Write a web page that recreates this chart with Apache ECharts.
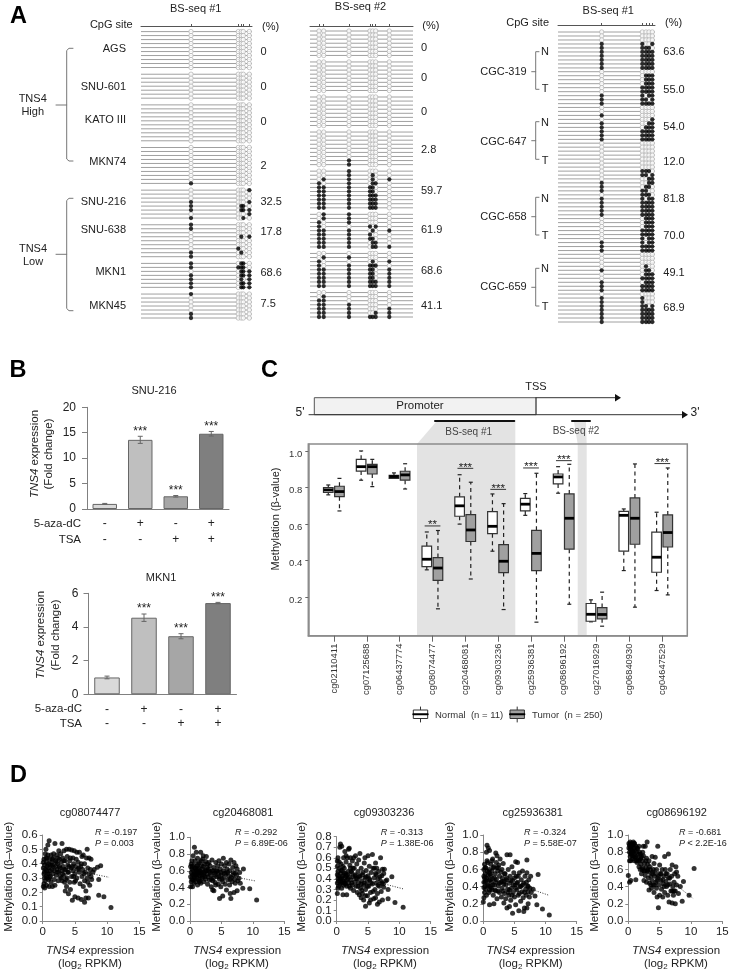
<!DOCTYPE html>
<html><head><meta charset="utf-8">
<style>html,body{margin:0;padding:0;background:#fff}#c{width:735px;height:972px}</style>
<script src="https://cdn.jsdelivr.net/npm/echarts@6/dist/echarts.min.js"></script>
</head><body><div id="c"></div>
<script>
// ---------- Panel A data: each string is one clone, one character per CpG site ----------
const a1Sites=[50,97.3,100.3,102.3,108.3];
const a1Labels=['AGS','SNU-601','KATO III','MKN74','SNU-216','SNU-638','MKN1','MKN45'];
const a1Pct=['0','0','0','2','32.5','17.8','68.6','7.5'];
const a1Rows=[
 Array(10).fill('00000'),Array(7).fill('00000'),Array(10).fill('00000'),
 ['00000','00000','00000','00000','00000','00000','00000','00000','00000','10000'],
 ['00001','00000','00000','10001','10110','10111','00001','10010'],
 ['10000','10000','00000','00101','00000','00000','01000','10100','10000'],
 ['10110','11110','00111','10111','10101','10111','10111'],
 ['10000','00000','00000','00000','00000','10000','10000']];
const a2Sites=[9,13.7,39,60,62.7,65.7,79.3];
const a2Pct=['0','0','0','2.8','59.7','61.9','68.6','41.1'];
const a2Rows=[
 Array(7).fill('0000000'),Array(8).fill('0000000'),Array(8).fill('0000000'),
 ['0000000','0000000','0000000','0000000','0000000','0000000','0000000','0010000','0010000'],
 ['0010000','0010100','0110101','1010110','1111100','1111100','1111110','1111110','1111110','1111110'],
 ['0110000','0110000','1010000','1001010','1110101','1111000','1111100','1110110','1110111'],
 ['0000000','0110000','1000101','1011110','1111101','1111101','1111101','1111111','1111111'],
 ['0000000','0100000','1100000','1110000','1110001','1110011','1111111']];
const a3Sites=[43.7,84.3,88,91,94.3];
const a3Labels=['CGC-319','CGC-647','CGC-658','CGC-659'];
const a3Pct=['63.6','55.0','54.0','12.0','81.8','70.0','49.1','68.9'];
const a3Rows=[
 ['00000','00000','00000','11001','11110','11111','11111','11111','11111','11111'],
 ['00000','00111','00111','00111','01111','01111','11011','11101','11111'],
 ['00000','00000','10000','00001','10011','10111','11111','11111','11111'],
 ['00000','00000','00000','00000','00000','00000','00000','01110','01101'],
 ['00011','10011','10110','11100','01110','11011','11111','11111','11111','11111'],
 ['00111','00111','00111','01111','01111','01011','11011','11111','11111'],
 ['00000','00000','00000','00100','10110','00111','01111','10111','11111','11111'],
 ['00000','11000','11000','11101','11111','11111','11111','11111']];

// ---------- Panel B data ----------
const bTreat5aza=['-','+','-','+'];
const bTreatTsa=['-','-','+','+'];
const bColors=['#d9d9d9','#bfbfbf','#a6a6a6','#7f7f7f'];
const snu216Values=[1,13.6,2.5,14.8];
const snu216Errors=[0.1,0.7,0.15,0.45];
const snu216Stars=['','***','***','***'];
const mkn1Values=[1,4.55,3.45,5.42];
const mkn1Errors=[0.08,0.22,0.15,0.04];
const mkn1Stars=['','***','***','***'];

// ---------- Panel C data: low, q1, median, q3, high ----------
const cgSites=['cg02110411','cg07125688','cg06437774','cg08074477','cg20468081','cg09303236','cg25936381','cg08696192','cg27016929','cg06840930','cg04647529'];
const normalBoxes=[[.76,.774,.787,.80,.814],[.84,.89,.914,.954,1.0],[.85,.85,.86,.867,.88],[.35,.368,.408,.48,.557],[.60,.643,.70,.749,.87],[.452,.548,.588,.668,.765],[.648,.672,.709,.741,.767],[.769,.82,.858,.874,.914],[.066,.069,.107,.166,.186],[.346,.452,.648,.67,.683],[.237,.337,.419,.556,.665]];
const tumorBoxes=[[.672,.75,.778,.807,.85],[.805,.874,.914,.927,.954],[.792,.84,.869,.889,.93],[.137,.293,.36,.417,.565],[.30,.505,.568,.652,.829],[.133,.335,.397,.488,.712],[.064,.346,.44,.566,.878],[.162,.463,.632,.765,.927],[.042,.082,.106,.144,.228],[.146,.49,.632,.743,.929],[.213,.475,.554,.65,.907]];
const sigSites=[4,5,6,7,8,11];
const sigLabels=['**','***','***','***','***','***'];
const sigHeights=[.59,.905,.79,.907,.947,.931];

// ---------- Panel D data ----------
const dTitles=['cg08074477','cg20468081','cg09303236','cg25936381','cg08696192'];
const dR=['R = -0.197','R = -0.292','R = -0.313','R = -0.324','R = -0.681'];
const dP=['P = 0.003','P = 6.89E-06','P = 1.38E-06','P = 5.58E-07','P < 2.2E-16'];
const dTicks6=[0,.1,.2,.3,.4,.5,.6];
const dTicks8Even=[0,.2,.4,.6,.8];
const dTicks8Odd=[.1,.3,.5,.7];
const dTicks10=[0,.2,.4,.6,.8,1.0];
const dTrend1=[[0,.40],[10.3,.305]];
const dTrend2=[[0,.63],[10.3,.48]];
const dTrend3=[[0,.47],[10.6,.305]];
const dTrend4=[[0,.56],[10.5,.30]];
const dTrend5=[[0,.85],[10.4,.26]];
const dPts1=[[0.1,.24],[0.2,.26],[0.3,.23],[0.2,.33],[0.1,.37],[0.3,.39],[0.1,.41],[0.2,.43],[0.4,.36],[0.4,.47],[0.5,.50],[0.5,.31],[0.6,.25],[0.6,.35],[0.6,.41],[0.7,.38],[0.7,.44],[0.8,.33],[0.8,.53],[0.9,.29],[0.9,.37],[0.9,.40],[1.0,.56],[1.0,.24],[1.1,.43],[1.1,.35],[1.2,.39],[1.2,.31],[1.3,.46],[1.3,.27],[1.4,.41],[1.4,.36],[1.5,.24],[1.6,.33],[1.6,.38],[1.7,.44],[1.7,.47],[1.8,.35],[1.8,.29],[1.9,.54],[1.9,.25],[2.0,.42],[2.0,.38],[2.1,.32],[2.2,.46],[2.2,.36],[2.3,.40],[2.4,.28],[2.5,.49],[2.5,.34],[2.6,.43],[2.7,.37],[2.7,.31],[2.8,.47],[2.9,.41],[3.0,.54],[3.0,.35],[3.0,.28],[3.1,.44],[3.2,.38],[3.3,.49],[3.3,.32],[3.4,.27],[3.5,.42],[3.5,.21],[3.6,.36],[3.7,.50],[3.7,.24],[3.8,.45],[3.8,.30],[3.9,.39],[4.0,.19],[4.0,.34],[4.1,.50],[4.2,.42],[4.2,.27],[4.3,.22],[4.4,.37],[4.5,.495],[4.5,.31],[4.6,.145],[4.7,.44],[4.7,.35],[4.8,.40],[4.9,.27],[4.9,.49],[5.0,.17],[5.0,.33],[5.1,.38],[5.2,.43],[5.3,.48],[5.3,.30],[5.4,.36],[5.5,.16],[5.5,.41],[5.7,.48],[5.7,.34],[5.8,.26],[5.9,.38],[6.0,.15],[6.1,.31],[6.1,.45],[6.2,.36],[6.3,.46],[6.3,.24],[6.5,.13],[6.5,.40],[6.5,.28],[6.6,.34],[6.7,.16],[6.7,.21],[6.8,.44],[6.9,.50],[6.9,.30],[7.0,.27],[7.0,.37],[7.1,.16],[7.2,.44],[7.2,.33],[7.3,.25],[7.4,.36],[7.5,.43],[7.5,.31],[7.6,.29],[7.8,.34],[8.0,.36],[8.5,.375],[8.7,.29],[8.7,.18],[9.0,.385],[9.5,.17],[10.6,.095],[0.4,.28],[0.8,.46],[1.5,.43],[2.4,.44],[3.4,.36],[0.3,.30],[1.0,.33],[0.3,.34],[0.5,.44],[0.7,.30],[1.1,.30],[1.5,.39],[2.1,.41],[2.3,.34],[2.6,.38],[2.9,.30],[3.1,.33],[3.3,.42],[3.6,.29],[3.9,.34],[4.1,.38],[4.3,.44],[4.6,.38],[4.8,.31],[5.1,.28],[5.6,.37],[6.0,.40],[6.4,.33]];
const dPts2=[[0.1,.41],[0.2,.47],[0.1,.53],[0.2,.58],[0.3,.62],[0.1,.65],[0.3,.72],[0.4,.41],[0.4,.55],[0.5,.60],[0.5,.78],[0.5,.49],[0.7,.88],[0.6,.67],[0.7,.52],[0.7,.57],[0.8,.63],[0.8,.72],[0.9,.47],[0.9,.55],[1.0,.82],[1.0,.60],[1.1,.66],[1.1,.52],[1.2,.43],[1.2,.75],[1.3,.58],[1.4,.63],[1.4,.49],[1.5,.70],[1.6,.54],[1.6,.60],[1.7,.82],[1.7,.45],[1.8,.66],[1.9,.57],[1.9,.51],[2.0,.74],[2.0,.62],[2.1,.78],[2.2,.47],[2.2,.55],[2.3,.68],[2.4,.60],[2.5,.71],[2.5,.50],[2.6,.77],[2.7,.56],[2.7,.64],[2.8,.44],[2.9,.53],[3.0,.70],[3.0,.60],[3.1,.49],[3.2,.66],[3.3,.55],[3.4,.41],[3.5,.73],[3.5,.60],[3.6,.37],[3.7,.51],[3.8,.36],[3.8,.64],[3.9,.57],[4.0,.46],[4.1,.70],[4.1,.43],[4.2,.60],[4.3,.53],[4.4,.66],[4.5,.44],[4.5,.58],[4.6,.72],[4.7,.27],[4.7,.50],[4.8,.62],[4.9,.41],[5.0,.68],[5.0,.55],[5.2,.30],[5.2,.47],[5.3,.75],[5.3,.60],[5.4,.52],[5.5,.66],[5.6,.44],[5.7,.57],[5.8,.37],[5.8,.70],[5.9,.62],[6.0,.49],[6.1,.54],[6.2,.68],[6.3,.43],[6.3,.60],[6.4,.33],[6.5,.27],[6.5,.73],[6.6,.52],[6.7,.47],[6.8,.64],[6.9,.58],[7.0,.34],[7.0,.70],[7.1,.50],[7.2,.45],[7.3,.66],[7.4,.55],[7.5,.36],[7.5,.62],[7.6,.48],[7.8,.51],[7.9,.58],[8.4,.39],[8.5,.62],[8.0,.45],[9.5,.385],[10.6,.25],[0.3,.50],[0.6,.45],[0.9,.63],[1.3,.68],[1.6,.48],[2.1,.65],[2.4,.53],[0.2,.68],[1.1,.58],[1.8,.72],[1.5,.57],[2.9,.62],[3.6,.48],[0.4,.65],[0.6,.55],[0.8,.50],[1.0,.56],[1.2,.62],[1.4,.54],[1.7,.58],[2.0,.53],[2.3,.58],[2.6,.60],[2.8,.68],[3.2,.58],[3.4,.50],[3.7,.60],[4.0,.55],[4.3,.60],[4.6,.53],[4.9,.58],[5.1,.50],[5.5,.57],[6.0,.58],[6.4,.50],[6.8,.55],[7.2,.57],[1.5,.47]];
const dPts3=[[0.1,.26],[0.1,.36],[0.2,.40],[0.1,.44],[0.2,.47],[0.1,.52],[0.1,.57],[0.3,.33],[0.3,.38],[0.3,.43],[0.4,.50],[0.5,.70],[0.5,.40],[0.5,.35],[0.6,.73],[0.6,.45],[0.7,.54],[0.7,.37],[0.8,.71],[0.8,.41],[0.8,.31],[0.9,.48],[1.0,.25],[1.0,.38],[1.0,.43],[1.1,.60],[1.1,.34],[1.2,.50],[1.3,.66],[1.3,.41],[1.3,.36],[1.4,.45],[1.5,.56],[1.6,.25],[1.6,.33],[1.6,.39],[1.7,.60],[1.8,.47],[1.9,.68],[1.9,.36],[2.0,.69],[2.0,.42],[2.1,.53],[2.2,.31],[2.2,.60],[2.3,.39],[2.4,.46],[2.5,.57],[2.5,.34],[2.6,.42],[2.7,.60],[2.7,.29],[2.8,.50],[2.9,.37],[3.0,.62],[3.0,.44],[3.1,.33],[3.2,.54],[3.3,.27],[3.3,.40],[3.4,.47],[3.5,.36],[3.6,.25],[3.7,.64],[3.7,.43],[3.8,.31],[3.9,.50],[3.9,.22],[4.0,.38],[4.1,.26],[4.2,.46],[4.3,.34],[4.3,.20],[4.4,.55],[4.5,.60],[4.5,.41],[4.6,.14],[4.6,.30],[4.7,.48],[4.8,.37],[4.9,.24],[5.0,.62],[5.0,.43],[5.1,.33],[5.2,.17],[5.2,.52],[5.3,.39],[5.4,.27],[5.5,.46],[5.7,.63],[5.7,.35],[5.8,.50],[5.9,.21],[6.0,.41],[6.1,.30],[6.2,.55],[6.2,.45],[6.3,.36],[6.4,.50],[6.5,.16],[6.5,.26],[6.6,.40],[6.7,.47],[6.8,.18],[6.8,.33],[7.0,.60],[7.0,.38],[7.1,.28],[7.2,.43],[7.3,.20],[7.3,.49],[7.4,.35],[7.5,.32],[7.6,.49],[7.8,.38],[8.0,.39],[8.2,.21],[8.2,.30],[8.8,.42],[9.3,.175],[10.6,.13],[0.2,.31],[0.6,.40],[1.2,.37],[1.8,.40],[2.4,.36],[0.9,.36],[1.5,.43],[0.4,.56],[0.7,.48],[1.0,.52],[1.2,.45],[1.4,.35],[1.7,.44],[2.0,.33],[2.3,.47],[2.6,.50],[2.9,.43],[3.1,.40],[3.4,.33],[3.6,.42],[3.9,.35],[4.1,.44],[4.4,.36],[4.7,.42],[4.9,.33],[5.2,.40],[5.5,.36],[5.8,.28],[6.0,.50],[6.3,.44],[6.6,.34],[6.9,.42],[7.2,.36],[7.5,.45],[1.5,.62],[2.2,.50],[3.5,.58],[0.2,.60],[4.0,.29],[4.6,.24],[5.4,.20],[6.2,.22]];
const dPts4=[[0.0,.22],[0.1,.27],[0.1,.39],[0.1,.52],[0.1,.60],[0.2,.66],[0.2,.33],[0.3,.45],[0.3,.55],[0.4,.62],[0.4,.37],[0.5,.80],[0.5,.50],[0.6,.88],[0.6,.58],[0.7,.42],[0.7,.68],[0.8,.85],[0.8,.53],[0.9,.33],[0.9,.47],[1.0,.82],[1.0,.19],[1.0,.60],[1.1,.40],[1.2,.66],[1.2,.53],[1.3,.45],[1.4,.36],[1.4,.58],[1.5,.72],[1.5,.49],[1.6,.30],[1.7,.20],[1.7,.63],[1.8,.42],[1.9,.55],[2.0,.79],[2.0,.35],[2.1,.68],[2.1,.48],[2.2,.76],[2.2,.26],[2.3,.58],[2.4,.41],[2.5,.65],[2.6,.33],[2.6,.52],[2.7,.72],[2.8,.45],[2.9,.28],[3.0,.60],[3.0,.38],[3.1,.50],[3.2,.67],[3.3,.21],[3.3,.43],[3.4,.32],[3.5,.55],[3.6,.26],[3.7,.48],[3.8,.77],[3.8,.15],[3.9,.37],[4.0,.60],[4.1,.30],[4.2,.17],[4.2,.44],[4.3,.77],[4.3,.52],[4.4,.24],[4.5,.38],[4.6,.63],[4.7,.09],[4.7,.47],[4.8,.33],[4.9,.56],[5.0,.28],[5.1,.42],[5.2,.69],[5.2,.19],[5.3,.52],[5.4,.36],[5.5,.68],[5.5,.45],[5.6,.30],[5.7,.12],[5.8,.56],[5.9,.40],[6.0,.23],[6.1,.48],[6.2,.34],[6.3,.58],[6.4,.27],[6.5,.11],[6.5,.44],[6.6,.15],[6.7,.52],[6.8,.37],[6.9,.30],[7.0,.71],[7.0,.15],[7.0,.56],[7.1,.41],[7.2,.20],[7.2,.34],[7.3,.48],[7.4,.28],[7.5,.38],[7.6,.52],[7.7,.33],[8.0,.37],[8.3,.29],[8.6,.19],[8.8,.54],[9.5,.14],[10.6,.07],[0.3,.40],[0.8,.41],[1.1,.48],[1.9,.36],[2.4,.62],[0.5,.30],[3.4,.46],[0.2,.50],[0.4,.47],[0.6,.70],[0.9,.57],[1.1,.55],[1.3,.38],[1.5,.42],[1.6,.62],[1.8,.50],[2.0,.45],[2.2,.62],[2.4,.35],[2.6,.44],[2.8,.57],[3.0,.46],[3.2,.35],[3.4,.55],[3.6,.42],[3.8,.50],[4.0,.33],[4.2,.36],[4.4,.47],[4.6,.30],[4.8,.42],[5.0,.50],[5.2,.38],[5.4,.44],[5.6,.52],[5.8,.32],[6.0,.40],[6.3,.42],[6.6,.33],[6.9,.45],[7.2,.40],[0.1,.45],[0.3,.62],[1.0,.36],[1.4,.70]];
const dPts5=[[0.0,.53],[0.1,.90],[0.1,.85],[0.2,.45],[0.2,.80],[0.2,.88],[0.3,.75],[0.3,.84],[0.3,.92],[0.4,.47],[0.4,.70],[0.4,.86],[0.5,.80],[0.5,.90],[0.6,.83],[0.6,.76],[0.7,.88],[0.7,.72],[0.8,.92],[0.8,.80],[0.9,.85],[0.9,.77],[1.0,.90],[1.0,.70],[1.1,.82],[1.2,.48],[1.2,.87],[1.2,.75],[1.3,.80],[1.4,.68],[1.5,.84],[1.5,.73],[1.6,.78],[1.7,.63],[1.7,.87],[1.8,.71],[1.9,.60],[1.9,.78],[2.0,.66],[2.1,.55],[2.1,.75],[2.2,.70],[2.3,.62],[2.4,.87],[2.4,.76],[2.5,.47],[2.5,.58],[2.6,.67],[2.7,.87],[2.7,.53],[2.8,.62],[2.9,.45],[2.9,.73],[3.0,.92],[3.0,.58],[3.1,.66],[3.2,.50],[3.3,.36],[3.3,.70],[3.4,.44],[3.5,.60],[3.6,.52],[3.7,.38],[3.8,.75],[3.8,.47],[3.9,.57],[4.0,.42],[4.1,.67],[4.1,.33],[4.2,.52],[4.3,.74],[4.4,.45],[4.5,.60],[4.5,.38],[4.6,.28],[4.7,.87],[4.7,.50],[4.8,.155],[4.9,.42],[5.0,.65],[5.0,.30],[5.1,.55],[5.2,.47],[5.3,.37],[5.4,.60],[5.5,.28],[5.6,.43],[5.7,.52],[5.8,.75],[5.8,.33],[5.9,.60],[6.0,.46],[6.1,.40],[6.2,.55],[6.3,.30],[6.4,.78],[6.4,.50],[6.5,.22],[6.6,.43],[6.7,.60],[6.8,.35],[6.9,.52],[7.0,.21],[7.0,.65],[7.1,.40],[7.2,.30],[7.3,.45],[7.4,.55],[7.5,.20],[7.5,.35],[7.6,.63],[7.7,.57],[7.7,.42],[7.9,.52],[8.0,.32],[8.3,.40],[8.6,.23],[8.8,.46],[9.7,.30],[10.5,.61],[0.2,.70],[0.4,.78],[0.6,.88],[0.7,.81],[0.8,.75],[0.9,.90],[1.1,.74],[1.3,.70],[1.4,.85],[1.6,.70],[1.8,.80],[2.0,.73],[2.2,.60],[2.3,.80],[2.6,.58],[2.8,.70],[3.1,.60],[3.2,.57],[3.4,.63],[3.6,.42],[3.8,.55],[4.0,.60],[4.2,.42],[4.4,.55],[4.6,.47],[4.9,.52],[5.2,.55],[5.5,.48],[5.7,.40],[6.0,.55],[6.3,.42],[6.6,.50],[7.0,.35],[7.3,.35]];

// ---------- helpers ----------
const FONT='"Liberation Sans",Arial,sans-serif';
const INK='#222';
const g=[];
function T(text,x,y,o={}){
  const st={text,x:0,y:0,fill:o.fill||INK,fontFamily:FONT,fontSize:o.size||11,fontWeight:o.bold?'bold':'normal',
    align:o.align||'center',verticalAlign:'middle'};
  if(o.rich)st.rich=o.rich;
  g.push({type:'text',x,y,rotation:o.rot||0,silent:true,z:50,style:st});
}
function PL(pts,o={}){g.push({type:'polyline',silent:true,z:o.z==null?40:o.z,shape:{points:pts},style:{stroke:o.stroke||'#777',lineWidth:o.w||1,fill:null,lineCap:'round'}});}
function PG(pts,fill,z=-5){g.push({type:'polygon',silent:true,z,shape:{points:pts},style:{fill}});}
function RC(x,y,w,h,fill,stroke,lw=1,z=40){g.push({type:'rect',silent:true,z,shape:{x,y,width:w,height:h},style:{fill,stroke,lineWidth:lw}});}

const grids=[],xAxes=[],yAxes=[],series=[];
function addGrid(l,t,w,h,opt){grids.push(Object.assign({left:l,top:t,width:w,height:h,containLabel:false,show:false},opt||{}));return grids.length-1;}

// ---------- Panel A builder ----------
function lollipop(sites,rows,left,right,headY,firstY,lastY,gapRows){
  let r=0;const ys=[],open=[],full=[];
  rows.forEach(grp=>{
    grp.forEach((row,i)=>{
      ys.push([r]);
      [...row].forEach((c,j)=>(c==='1'?full:open).push([sites[j],r]));
      if(i<grp.length-1) r+=1;
    });
    r+=gapRows;
  });
  const last=ys[ys.length-1][0];
  const step=(lastY-firstY)/last;
  const gi=addGrid(left,headY,right-left,lastY-headY);
  const xMax=right-left;
  xAxes.push({type:'value',gridIndex:gi,position:'top',min:0,max:xMax,splitLine:{show:false},
    axisLine:{onZero:false,lineStyle:{color:'#555',width:1}},
    axisTick:{show:true,customValues:sites,length:2,lineStyle:{color:'#555'}},axisLabel:{show:false}});
  yAxes.push({type:'value',gridIndex:gi,inverse:true,show:false,min:-(firstY-headY)/step,max:last,splitLine:{show:false}});
  const idx=xAxes.length-1;
  series.push({type:'custom',coordinateSystem:'cartesian2d',xAxisIndex:idx,yAxisIndex:idx,silent:true,z:1,clip:false,
    data:ys,encode:{y:0},
    renderItem:(p,api)=>{const y=api.value(0);const a=api.coord([0,y]),b=api.coord([xMax,y]);
      return {type:'line',shape:{x1:a[0],y1:a[1],x2:b[0],y2:b[1]},style:{stroke:'#a0a0a0',lineWidth:1}};}});
  series.push({type:'scatter',xAxisIndex:idx,yAxisIndex:idx,silent:true,z:2,data:open,symbolSize:4.4,clip:false,
    itemStyle:{color:'#fff',borderColor:'#b0b0b0',borderWidth:.9}});
  series.push({type:'scatter',xAxisIndex:idx,yAxisIndex:idx,silent:true,z:3,data:full,symbolSize:4.3,clip:false,
    itemStyle:{color:'#000'}});
}
lollipop(a1Sites,a1Rows,141,252,26,31.6,318,1.68);
lollipop(a2Sites,a2Rows,310,413,26,31,317,1.6);
lollipop(a3Sites,a3Rows,558,655,25,32,322,0.95);

// Panel A text
T('A',18.5,17,{size:23.5,bold:true,fill:'#000'});
T('BS-seq #1',195.7,9);T('CpG site',132.7,25,{align:'right'});T('(%)',262,27,{align:'left'});
[49,86.7,120,161.7,201.7,230,272,305.7].forEach((y,i)=>T(a1Labels[i],126,y,{align:'right'}));
[51.7,87,122,165.7,201.7,232,272.7,304].forEach((y,i)=>T(a1Pct[i],260.5,y,{align:'left'}));
T('TNS4',32.7,99);T('High',32.7,112.3);T('TNS4',33,249);T('Low',33,262);
PL([[73,48.3],[69,48.3],[66.7,50.5],[66.7,159],[69,161],[73,161]]);PL([[56,105],[66.7,105]]);
PL([[73,198.3],[69,198.3],[66.7,200.5],[66.7,308.5],[69,310.7],[73,310.7]]);PL([[56,254.3],[66.7,254.3]]);
T('BS-seq #2',360.5,6.7);T('(%)',422.3,25.7,{align:'left'});
[47.7,78,112,150,191,229.7,271.3,305.7].forEach((y,i)=>T(a2Pct[i],421,y,{align:'left'}));
T('BS-seq #1',608.3,10.7);T('CpG site',549,23.3,{align:'right'});T('(%)',665,23.3,{align:'left'});
[51.7,90.3,126.7,161.7,199,236,273.3,308.3].forEach((y,i)=>T(a3Pct[i],663.3,y,{align:'left'}));
[71.7,141.7,217.3,287.3].forEach((y,i)=>T(a3Labels[i],526.7,y,{align:'right'}));
[[51.7,89.3],[123,161],[199,236],[268.7,307.3]].forEach(p=>{T('N',545,p[0]);T('T',545,p[1]);});
[[51.7,89.3,71.7],[121.7,159.3,140.7],[197.3,235,216.7],[268.3,306,287.3]].forEach(p=>{
  PL([[539,p[0]],[535.7,p[0]],[535.7,p[1]],[539,p[1]]]);PL([[531.7,p[2]],[535.7,p[2]]]);});

// ---------- Panel B builder ----------
function barPanel(left,top,w,h,maxV,intv,values,errors,stars,lh,margin,yMargin){
  const gi=addGrid(left,top,w,h);
  xAxes.push({type:'category',gridIndex:gi,data:bTreat5aza.map((a,i)=>a+'\n'+bTreatTsa[i]),
    axisLine:{lineStyle:{color:'#808080'}},axisTick:{show:false},
    axisLabel:{color:INK,fontSize:12,lineHeight:lh,margin,fontFamily:FONT}});
  yAxes.push({type:'value',gridIndex:gi,min:0,max:maxV,interval:intv,splitLine:{show:false},
    axisLine:{show:true,lineStyle:{color:'#808080'}},axisTick:{show:true,length:5,lineStyle:{color:'#808080'}},
    axisLabel:{color:INK,fontSize:12,margin:yMargin,fontFamily:FONT,showMaxLabel:true,showMinLabel:true}});
  const idx=xAxes.length-1;
  series.push({type:'bar',xAxisIndex:idx,yAxisIndex:idx,barWidth:(w/4)*0.69,silent:true,
    data:values.map((v,i)=>({value:v,itemStyle:{color:bColors[i],borderColor:'#666',borderWidth:1}}))});
  series.push({type:'custom',coordinateSystem:'cartesian2d',xAxisIndex:idx,yAxisIndex:idx,silent:true,z:5,clip:false,
    data:values.map((v,i)=>[i,v,errors[i]]),encode:{x:0,y:1},
    renderItem:(p,api)=>{
      const i=api.value(0),v=api.value(1),e=api.value(2);
      const a=api.coord([i,v+e]),b=api.coord([i,v-e]);const st={stroke:'#666',lineWidth:1};
      const ch=[{type:'line',shape:{x1:a[0],y1:a[1],x2:b[0],y2:b[1]},style:st},
        {type:'line',shape:{x1:a[0]-2.5,y1:a[1],x2:a[0]+2.5,y2:a[1]},style:st},
        {type:'line',shape:{x1:b[0]-2.5,y1:b[1],x2:b[0]+2.5,y2:b[1]},style:st}];
      if(stars[i])ch.push({type:'text',x:a[0],y:a[1]+1,style:{text:stars[i],align:'center',verticalAlign:'bottom',fontSize:12,fontFamily:FONT,fill:INK}});
      return {type:'group',children:ch};}});
}
barPanel(87,407.3,142,101.7,20,5,snu216Values,snu216Errors,snu216Stars,16,7,11);
barPanel(88.5,593.3,148,101,6,2,mkn1Values,mkn1Errors,mkn1Stars,14.5,8,10);
T('B',18,371,{size:23.5,bold:true,fill:'#000'});
T('SNU-216',154,390.7);T('MKN1',161,578);
const itRich={i:{fontStyle:'italic',fontSize:11.5,fontFamily:FONT,fill:INK}};
function tns4Label(x,y){T('{i|TNS4} expression',x,y,{rot:Math.PI/2,size:11.5,rich:itRich});}
tns4Label(35,454);T('(Fold change)',49,454,{rot:Math.PI/2,size:11.5});
tns4Label(41,635);T('(Fold change)',55.5,635,{rot:Math.PI/2,size:11.5});
T('5-aza-dC',81,524,{align:'right',size:11.5});T('TSA',81,540,{align:'right',size:11.5});
T('5-aza-dC',82,709,{align:'right',size:11.5});T('TSA',82,723.5,{align:'right',size:11.5});

// ---------- Panel C ----------
const cIdx=(()=>{
  const gi=addGrid(308.3,444,379,191.7,{show:true,borderColor:'#8c8c8c',borderWidth:1.5,backgroundColor:'transparent'});
  const ticks=cgSites.map((s,i)=>i+1);
  xAxes.push({type:'value',gridIndex:gi,min:0.216,max:11.76,splitLine:{show:false},
    axisLine:{show:true,onZero:false,lineStyle:{color:'#8c8c8c',width:1.5}},
    axisTick:{show:true,customValues:ticks,length:6,lineStyle:{color:'#666'}},
    axisLabel:{show:true,customValues:ticks,rotate:90,fontSize:9.3,color:'#333',margin:8,fontFamily:FONT,
      formatter:v=>cgSites[Math.round(v)-1]}});
  yAxes.push({type:'value',gridIndex:gi,min:-0.01,max:1.038,splitLine:{show:false},
    axisLine:{show:true,onZero:false,lineStyle:{color:'#8c8c8c',width:1.5}},
    axisTick:{show:true,customValues:[.2,.4,.6,.8,1.0],length:3,lineStyle:{color:'#666'}},
    axisLabel:{show:true,customValues:[.2,.4,.6,.8,1.0],fontSize:9.5,color:'#333',margin:6,fontFamily:FONT,verticalAlign:'top',lineHeight:6,
      formatter:v=>v.toFixed(1)}});
  return xAxes.length-1;
})();
function boxSeries(boxes,offset,fill){
  series.push({type:'custom',coordinateSystem:'cartesian2d',xAxisIndex:cIdx,yAxisIndex:cIdx,silent:true,z:5,clip:false,
    data:boxes.map((b,i)=>[i+1+offset,...b]),encode:{x:0,y:[1,2,3,4,5]},
    renderItem:(p,api)=>{
      const x=api.value(0),lo=api.coord([x,api.value(1)]),q1=api.coord([x,api.value(2)]),med=api.coord([x,api.value(3)]),q3=api.coord([x,api.value(4)]),hi=api.coord([x,api.value(5)]);
      const cx=lo[0],hw=4.8,cap=2;
      const dash={stroke:'#222',lineWidth:1.2,lineDash:[4,3.5]},solid={stroke:'#222',lineWidth:1.2};
      return {type:'group',children:[
        {type:'line',shape:{x1:cx,y1:q1[1],x2:cx,y2:lo[1]},style:dash},
        {type:'line',shape:{x1:cx,y1:q3[1],x2:cx,y2:hi[1]},style:dash},
        {type:'line',shape:{x1:cx-cap,y1:lo[1],x2:cx+cap,y2:lo[1]},style:solid},
        {type:'line',shape:{x1:cx-cap,y1:hi[1],x2:cx+cap,y2:hi[1]},style:solid},
        {type:'rect',shape:{x:cx-hw,y:q3[1],width:2*hw,height:q1[1]-q3[1]},style:{fill,stroke:'#333',lineWidth:1.2}},
        {type:'line',shape:{x1:cx-hw,y1:med[1],x2:cx+hw,y2:med[1]},style:{stroke:'#000',lineWidth:2.8}}
      ]};}});
}
boxSeries(normalBoxes,-0.175,'#fff');
boxSeries(tumorBoxes,0.165,'#a0a0a0');
series.push({type:'custom',coordinateSystem:'cartesian2d',xAxisIndex:cIdx,yAxisIndex:cIdx,silent:true,z:6,clip:false,
  data:sigSites.map((s,i)=>[s,sigHeights[i],i]),encode:{x:0,y:1},
  renderItem:(p,api)=>{
    const a=api.coord([api.value(0)-.24,api.value(1)]),b=api.coord([api.value(0)+.24,api.value(1)]);
    return {type:'group',children:[
      {type:'line',shape:{x1:a[0],y1:a[1],x2:b[0],y2:b[1]},style:{stroke:'#333',lineWidth:1}},
      {type:'text',x:(a[0]+b[0])/2,y:a[1]+5,style:{text:sigLabels[api.value(2)],align:'center',verticalAlign:'bottom',fontSize:11.5,fontFamily:FONT,fill:INK}}]};}});
T('C',269.5,371,{size:23.5,bold:true,fill:'#000'});
T('TSS',536,386.7,{size:11});T('Promoter',420,406,{size:11.5});T("5'",300,413,{size:12});T("3'",695,413,{size:12});
RC(314.3,397.7,221.7,17,'#f2f2f2','#555',1);
PL([[536,397.7],[536,414.7]],{stroke:'#555'});
PL([[536,397.7],[616,397.7]],{stroke:'#333'});PG([[615,394],[621,397.7],[615,401.5]],'#111',41);
PL([[309,414.7],[683,414.7]],{stroke:'#333'});PG([[682,411],[688,414.7],[682,418.5]],'#111',41);
PL([[435,421],[514.3,421]],{stroke:'#111',w:2});PL([[572,421],[590,421]],{stroke:'#111',w:2});
T('BS-seq #1',468.7,432,{size:10,fill:'#444'});T('BS-seq #2',576,431,{size:10,fill:'#444'});
// shaded promoter regions running from the BS-seq bars down through the plot
PG([[417,444],[436,422],[515.3,422],[515.3,635],[417,635]],'#e3e3e3');
PG([[574,422],[586,422],[586.7,444],[586.7,635],[577.7,635],[577.7,444]],'#e3e3e3');
T('Methylation (β-value)',276,519,{rot:Math.PI/2,size:11});
// legend
[[413.3,'#fff','Normal  (n = 11)',435],[510,'#a0a0a0','Tumor  (n = 250)',532]].forEach(l=>{
  PL([[l[0]+7.2,707],[l[0]+7.2,722]],{stroke:'#333'});
  RC(l[0],710,14.4,8.5,l[1],'#333',1,41);
  PL([[l[0],714.2],[l[0]+14.4,714.2]],{stroke:'#000',w:2,z:42});
  T(l[2],l[3],715.5,{align:'left',size:9.5,fill:'#333'});
});

// ---------- Panel D ----------
const dGeom=[
 {l:42.7,w:96.6,top:835,max:.6,ticks:dTicks6,pts:dPts1,trend:dTrend1,tx:90,ylx:8.5,rx:95,xtx:90},
 {l:190,w:94.3,top:837.3,max:1,ticks:dTicks10,pts:dPts2,trend:dTrend2,tx:243,ylx:156.7,rx:235,xtx:237},
 {l:336.7,w:94,top:836.7,max:.8,ticks:dTicks8Even,extraTicks:dTicks8Odd,pts:dPts3,trend:dTrend3,tx:384,ylx:301.7,rx:380.7,xtx:385},
 {l:483.3,w:93.4,top:835,max:1,ticks:dTicks10,pts:dPts4,trend:dTrend4,tx:532.7,ylx:450,rx:524,xtx:530.7},
 {l:628.3,w:94,top:835,max:1,ticks:dTicks10,pts:dPts5,trend:dTrend5,tx:676.7,ylx:595,rx:679,xtx:676}];
const subRich={i:{fontStyle:'italic',fontSize:9,fontFamily:FONT,fill:INK}};
const xRich={i:{fontStyle:'italic',fontSize:11.5,fontFamily:FONT,fill:INK},s:{fontSize:8,fontFamily:FONT,fill:INK,verticalAlign:'bottom',padding:[5,0,0,0]}};
dGeom.forEach((d,k)=>{
  const gi=addGrid(d.l,d.top,d.w,921-d.top);
  xAxes.push({type:'value',gridIndex:gi,min:0,max:15,interval:5,position:'bottom',splitLine:{show:false},
    axisLine:{show:true,lineStyle:{color:'#888'}},axisTick:{show:true,length:3,lineStyle:{color:'#888'}},
    axisLabel:{fontSize:11.5,color:INK,margin:5,fontFamily:FONT,showMaxLabel:true,showMinLabel:true}});
  yAxes.push({type:'value',gridIndex:gi,min:0,max:d.max,position:'left',splitLine:{show:false},
    axisLine:{show:true,lineStyle:{color:'#888'}},axisTick:{show:true,customValues:d.ticks,length:3,lineStyle:{color:'#888'}},
    axisLabel:{show:true,customValues:d.ticks,showMaxLabel:true,showMinLabel:true,fontSize:11.5,color:INK,margin:5,fontFamily:FONT,formatter:v=>v.toFixed(1)}});
  const idx=xAxes.length-1;
  series.push({type:'line',xAxisIndex:idx,yAxisIndex:idx,silent:true,z:2,data:d.trend,showSymbol:false,symbol:'none',
    lineStyle:{color:'#333',width:1,type:[1,1.5]}});
  series.push({type:'scatter',xAxisIndex:idx,yAxisIndex:idx,silent:true,z:3,data:d.pts,symbolSize:5,clip:false,itemStyle:{color:'#000'}});
  if(d.extraTicks){ // ticks too close for one axis's overlap check: carry the odd ones on a twin axis
    xAxes.push({type:'value',gridIndex:gi,min:0,max:15,position:'bottom',show:false});
    yAxes.push({type:'value',gridIndex:gi,min:0,max:d.max,position:'left',splitLine:{show:false},
      axisLine:{show:false},axisTick:{show:true,customValues:d.extraTicks,length:3,lineStyle:{color:'#888'}},
      axisLabel:{show:true,customValues:d.extraTicks,showMaxLabel:true,showMinLabel:true,fontSize:11.5,color:INK,margin:5,fontFamily:FONT,formatter:v=>v.toFixed(1)}});
  }
  T(dTitles[k],d.tx,813,{size:11});
  T('{i|'+dR[k][0]+'}'+dR[k].slice(1),d.rx,832.7,{align:'left',size:9,rich:subRich});
  T('{i|'+dP[k][0]+'}'+dP[k].slice(1),d.rx,843.3,{align:'left',size:9,rich:subRich});
  T('Methylation (β–value)',d.ylx,876.7,{rot:Math.PI/2,size:11.5});
  T('{i|TNS4} expression',d.xtx,950.7,{size:11.5,rich:xRich});
  T('(log{s|2} RPKM)',d.xtx,964,{size:11.5,rich:xRich});
});
T('D',18.5,776,{size:23.5,bold:true,fill:'#000'});

const chart=echarts.init(document.getElementById('c'),null,{renderer:'canvas'});
chart.setOption({animation:false,backgroundColor:'#fff',textStyle:{fontFamily:FONT},tooltip:{show:false},
  grid:grids,xAxis:xAxes,yAxis:yAxes,series,graphic:{elements:g}});
</script></body></html>
